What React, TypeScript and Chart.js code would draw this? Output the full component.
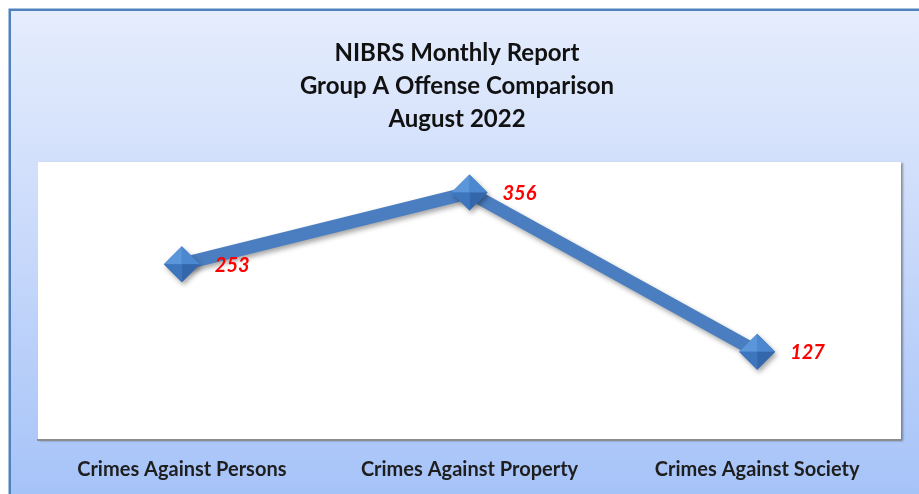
import React, { useEffect, useRef } from "react";
import { Chart, registerables } from "chart.js";

Chart.register(...registerables);

const titleLines = ["NIBRS Monthly Report", "Group A Offense Comparison", "August 2022"];
const categories = ["Crimes Against Persons", "Crimes Against Property", "Crimes Against Society"];
const offenseCounts = [253, 356, 127];
const yRange = [0, 400];

const FONT = "Lato, 'Open Sans', sans-serif";
const VIEW_H = 494;
const CANVAS_H = 500;

export default function App() {
  const ref = useRef<HTMLCanvasElement>(null);

  useEffect(() => {
    const canvas = ref.current!;

    const bgPlugin = {
      id: "bgFrame",
      beforeDraw(chart: any) {
        const { ctx, width, height, chartArea } = chart;
        ctx.save();
        ctx.fillStyle = "#ffffff";
        ctx.fillRect(0, 0, width, height);
        const g = ctx.createLinearGradient(0, 10, 0, VIEW_H);
        g.addColorStop(0, "#E5EDFD");
        g.addColorStop(0.32, "#D3E0FB");
        g.addColorStop(1, "#A6C3F8");
        ctx.fillStyle = g;
        ctx.fillRect(10, 10, width - 10, height - 10);
        ctx.strokeStyle = "#4F81BD";
        ctx.lineWidth = 2.5;
        ctx.beginPath();
        ctx.moveTo(9.75, height + 5);
        ctx.lineTo(9.75, 9.75);
        ctx.lineTo(width + 5, 9.75);
        ctx.stroke();
        ctx.shadowColor = "rgba(0,0,0,0.35)";
        ctx.shadowBlur = 2;
        ctx.shadowOffsetX = 2;
        ctx.shadowOffsetY = 1;
        ctx.fillStyle = "#ffffff";
        ctx.fillRect(chartArea.left, chartArea.top, chartArea.right - chartArea.left, chartArea.bottom - chartArea.top);
        ctx.restore();

        ctx.save();
        ctx.fillStyle = "#111111";
        ctx.font = `bold 24px ${FONT}`;
        ctx.textAlign = "center";
        ctx.textBaseline = "middle";
        titleLines.forEach((t, i) => ctx.fillText(t, 457, 53 + i * 33));
        ctx.restore();
      },
    };

    const shadowPlugin = {
      id: "lineShadow",
      beforeDatasetDraw(chart: any) {
        const ctx = chart.ctx;
        ctx.save();
        ctx.shadowColor = "rgba(0,0,0,0.35)";
        ctx.shadowBlur = 5;
        ctx.shadowOffsetX = 2;
        ctx.shadowOffsetY = 3;
      },
      afterDatasetDraw(chart: any) {
        chart.ctx.restore();
      },
    };

    const overlayPlugin = {
      id: "overlay",
      afterDatasetsDraw(chart: any) {
        const ctx = chart.ctx;
        const meta = chart.getDatasetMeta(0);
        const r = 18;
        meta.data.forEach((el: any, i: number) => {
          const x = el.x, y = el.y;
          const facets: [number, number, number, number, string][] = [
            [x - r, y, x, y - r, "#5B96DA"],
            [x, y - r, x + r, y, "#4C88CF"],
            [x + r, y, x, y + r, "#3366AA"],
            [x, y + r, x - r, y, "#3E76BE"],
          ];
          facets.forEach(([ax, ay, bx, by, c]) => {
            ctx.beginPath();
            ctx.moveTo(x, y);
            ctx.lineTo(ax, ay);
            ctx.lineTo(bx, by);
            ctx.closePath();
            ctx.fillStyle = c;
            ctx.fill();
          });
          ctx.save();
          ctx.fillStyle = "#FF0000";
          ctx.font = `italic bold 20px ${FONT}`;
          ctx.textAlign = "left";
          ctx.textBaseline = "middle";
          ctx.fillText(String(offenseCounts[i]), x + 33, y + 1);
          ctx.restore();
        });
      },
    };

    const chart = new Chart(canvas, {
      type: "line",
      data: {
        labels: categories,
        datasets: [
          {
            data: offenseCounts,
            borderColor: "#4A7EC0",
            borderWidth: 13,
            pointStyle: "rectRot",
            pointRadius: 18,
            pointHoverRadius: 18,
            pointBackgroundColor: "#4A7EC0",
            pointBorderWidth: 0,
            tension: 0,
            clip: false as any,
          },
        ],
      },
      options: {
        animation: false,
        responsive: false,
        maintainAspectRatio: false,
        layout: { padding: { left: 38, right: 17, top: 162, bottom: 0 } },
        plugins: { legend: { display: false }, title: { display: false }, tooltip: { enabled: false } },
        scales: {
          x: {
            type: "category",
            offset: true,
            grid: { display: false, drawTicks: false },
            border: { display: true, color: "#8C8C8C", width: 2 },
            ticks: {
              color: "#1E1E1E",
              font: { family: FONT, size: 20, weight: "bold" },
              padding: 18,
              maxRotation: 0,
              autoSkip: false,
            },
          },
          y: { display: false, min: yRange[0], max: yRange[1] },
        },
      },
      plugins: [bgPlugin, shadowPlugin, overlayPlugin],
    });
    return () => chart.destroy();
  }, []);

  return (
    <div style={{ position: "fixed", left: 0, top: 0, width: 919, height: VIEW_H, overflow: "hidden" }}>
      <canvas ref={ref} width={919} height={CANVAS_H} style={{ display: "block", width: 919, height: CANVAS_H }} />
    </div>
  );
}
